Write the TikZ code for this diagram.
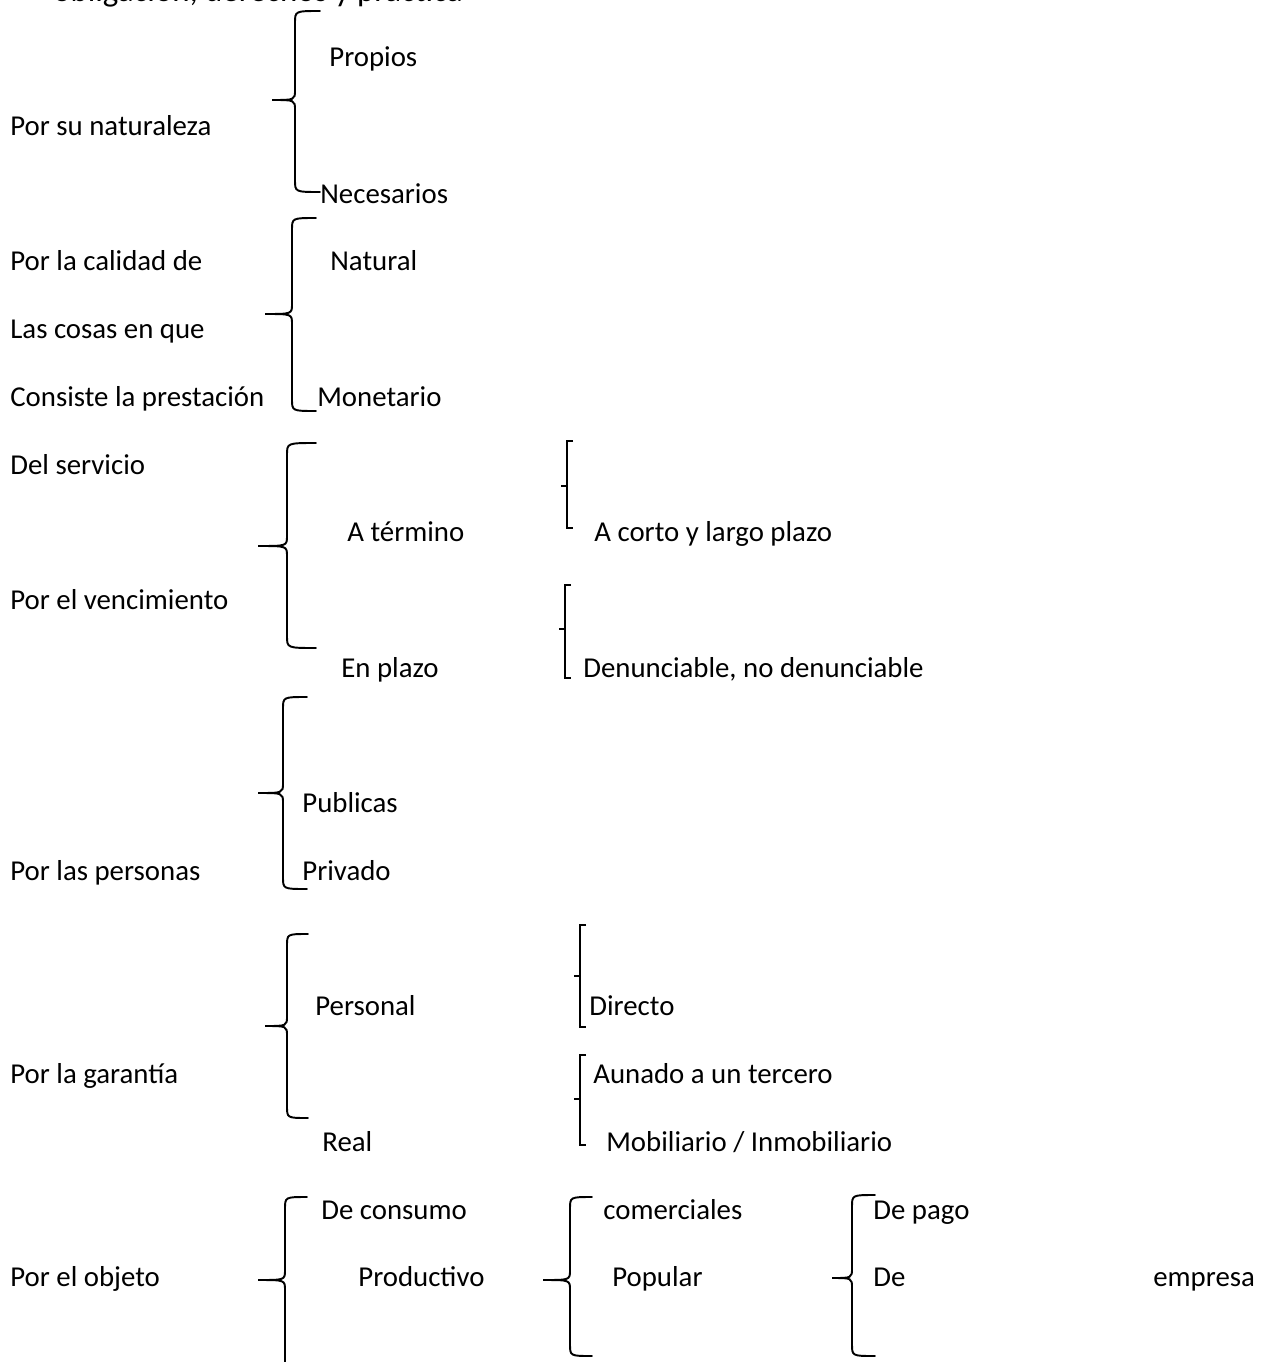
\documentclass[tikz,border=0pt]{standalone}
\usepackage{fontspec}
\setmainfont{Carlito}
% llave: #1 vertical, #2 end of hooks, #3 tip, #4 top, #5 middle, #6 bottom
\newcommand{\llave}[6]{%
  \draw[llave] (#2,#4) .. controls (#1,#4) .. (#1,#4+12) -- (#1,#5-10)
    .. controls (#1,#5) .. (#3,#5) .. controls (#1,#5) .. (#1,#5+10)
    -- (#1,#6-12) .. controls (#1,#6) .. (#2,#6);}
% corchete: #1 vertical, #2 top, #3 tick, #4 bottom
\newcommand{\corchete}[4]{%
  \draw[corchete] (#1+6,#2) -- (#1,#2) -- (#1,#4) -- (#1+6,#4);
  \draw[corchete] (#1,#3) -- (#1-6,#3);}
\begin{document}
\begin{tikzpicture}[x=0.02cm, y=-0.02cm,
  every node/.style={anchor=base west, inner sep=0pt, font=\fontsize{16.4}{20}\selectfont},
  llave/.style={line width=1.1pt, line cap=round},
  corchete/.style={line width=0.85pt}]
  \useasboundingbox (0,0) rectangle (1270,1362);
  \clip (0,0) rectangle (1270,1362);
  \node[font=\fontsize{18.7}{22}\selectfont] (titulo) at (53,2) {obligación, derechos y práctica};
  % por su naturaleza
  \node (naturaleza) at (10,135) {Por su naturaleza};
  \llave{295}{320}{272}{11}{100}{192}
  \node (propios) at (329,67) {Propios};
  \node (necesarios) at (320,203) {Necesarios};
  % por la calidad
  \node (calidad) at (10,270) {Por la calidad de};
  \node (cosas) at (10,338) {Las cosas en que};
  \node (consiste) at (10,406) {Consiste la prestación};
  \llave{292}{316}{265}{218}{314}{411}
  \node (natural) at (330,270) {Natural};
  \node (monetario) at (317,406) {Monetario};
  % por el vencimiento
  \node (servicio) at (10,474) {Del servicio};
  \node (vencimiento) at (10,609) {Por el vencimiento};
  \llave{287}{316}{258}{443}{546}{648}
  \node (termino) at (347,541) {A término};
  \node (plazo) at (341,677) {En plazo};
  \corchete{567}{441}{486}{528}
  \corchete{565}{585}{629}{678}
  \node (corto) at (594,541) {A corto y largo plazo};
  \node (denunciable) at (583,677) {Denunciable, no denunciable};
  % por las personas
  \node (personas) at (10,880) {Por las personas};
  \llave{283}{307}{258}{697}{793}{889}
  \node (publicas) at (302,812) {Publicas};
  \node (privado) at (302,880) {Privado};
  % por la garantia
  \node (garantia) at (10,1083) {Por la garantía};
  \llave{287}{308}{265}{934}{1026}{1118}
  \node (personal) at (315,1015) {Personal};
  \node (real) at (322,1151) {Real};
  \corchete{580}{925}{976}{1027}
  \corchete{580}{1055}{1099}{1145}
  \node (directo) at (589,1015) {Directo};
  \node (aunado) at (593,1083) {Aunado a un tercero};
  \node (mobiliario) at (606,1151) {Mobiliario / Inmobiliario};
  % por el objeto
  \node (objeto) at (10,1286) {Por el objeto};
  \llave{285}{307}{258}{1197}{1280}{1372}
  \node (consumo) at (321,1219) {De consumo};
  \node (productivo) at (358,1286) {Productivo};
  \llave{570}{592}{543}{1197}{1280}{1356}
  \node (comerciales) at (603,1219) {comerciales};
  \node (popular) at (612,1286) {Popular};
  \llave{852}{875}{832}{1195}{1278}{1356}
  \node (pago) at (873,1219) {De pago};
  \node (de) at (873,1286) {De};
  \node (empresa) at (1153,1286) {empresa};
\end{tikzpicture}
\end{document}
